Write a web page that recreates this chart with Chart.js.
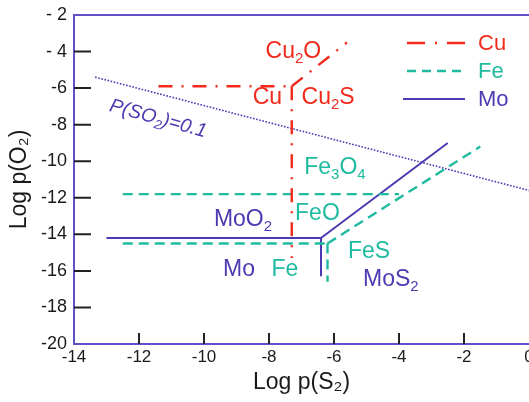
<!DOCTYPE html>
<html><head><meta charset="utf-8">
<script src="https://cdn.jsdelivr.net/npm/chart.js@4.4.0/dist/chart.umd.min.js"></script>
<style>html,body{margin:0;padding:0;background:#fff;overflow:hidden}#wrap{width:529px;height:402px;position:relative}</style>
</head><body><div id="wrap"><canvas id="c" width="529" height="402"></canvas></div>
<script>
// ---------- data ----------
const seriesNames = ['Cu', 'Fe', 'Mo'];
const xTickValues = [-14, -12, -10, -8, -6, -4, -2, 0];
const yTickValues = [-2, -4, -6, -8, -10, -12, -14, -16, -18, -20];
const yTickLabels = ['- 2', '- 4', '-6', '-8', '-10', '-12', '-14', '-16', '-18', '-20'];

// Cu boundaries
const cuHorizX = [-11.4, -7.3], cuHorizY = [-5.9, -5.9];
const cuVertX = [-7.3, -7.3],   cuVertY = [-5.9, -15.3];
const cuDiagX = [-7.3, -5.6],   cuDiagY = [-5.9, -3.5];
// Fe boundaries
const feUpperX = [-12.5, -4.0], feUpperY = [-11.8, -11.8];
const feLowerX = [-12.5, -6.2], feLowerY = [-14.5, -14.5];
const feVertX = [-6.2, -6.2],   feVertY = [-14.5, -16.6];
const feDiagX = [-6.2, -1.5],   feDiagY = [-14.5, -9.2];
// Mo boundaries
const moHorizX = [-13.0, -6.4], moHorizY = [-14.2, -14.2];
const moVertX = [-6.4, -6.4],   moVertY = [-14.2, -16.3];
const moDiagX = [-6.4, -2.5],   moDiagY = [-14.2, -9.0];
// P(SO2)=0.1 line
const so2X = [-13.35, 0], so2Y = [-5.4, -11.6];

// region labels (text, x, y in data units)
const labelTexts = ['Cu_2O', 'Cu', 'Cu_2S', 'Fe_3O_4', 'FeO', 'MoO_2', 'Mo', 'Fe', 'FeS', 'MoS_2', 'P(SO_2)=0.1'];
const labelX =     [-7.25, -8.05, -6.18, -5.97, -6.51, -8.8, -8.92, -7.51, -4.92, -4.25, -11.4];
const labelY =     [-3.91, -6.43, -6.43, -10.26, -12.78, -13.1, -15.8, -15.84, -14.86, -16.39, -7.6];
const labelSeries = ['Cu', 'Cu', 'Cu', 'Fe', 'Fe', 'Mo', 'Mo', 'Fe', 'Fe', 'Mo', 'Mo'];

// ---------- styles ----------
const FONT = '"Liberation Sans", Arial, sans-serif';
const COLORS = { Cu: '#f22a1c', Fe: '#1fbba0', Mo: '#4b3bb2' };
const DASH = { Cu: [14, 9, 2, 9], Fe: [10, 6], Mo: [] };
const WIDTH = { Cu: 2.4, Fe: 2.4, Mo: 2 };
const AXIS_COLOR = '#5f52c8';

function pts(xs, ys) { return xs.map((x, i) => ({ x: x, y: ys[i] })); }
function ds(name, xs, ys) {
  return { label: name, data: pts(xs, ys), showLine: true, pointRadius: 0, borderColor: COLORS[name],
    borderWidth: WIDTH[name], borderDash: DASH[name], fill: false, tension: 0 };
}
const datasets = [
  ds('Cu', cuHorizX, cuHorizY), ds('Cu', cuVertX, cuVertY), ds('Cu', cuDiagX, cuDiagY),
  ds('Fe', feUpperX, feUpperY), ds('Fe', feLowerX, feLowerY), ds('Fe', feVertX, feVertY), ds('Fe', feDiagX, feDiagY),
  ds('Mo', moHorizX, moHorizY), ds('Mo', moVertX, moVertY), ds('Mo', moDiagX, moDiagY),
  { label: 'P(SO2)=0.1', data: pts(so2X, so2Y), showLine: true, pointRadius: 0, borderColor: '#4b3bb2',
    borderWidth: 1.6, borderDash: [1.6, 1.6], fill: false }
];

function parseRich(str) {
  const parts = []; let i = 0;
  while (i < str.length) {
    if (str[i] === '_') { parts.push({ t: str[i + 1], sub: true }); i += 2; }
    else { let j = i; while (j < str.length && str[j] !== '_') j++; parts.push({ t: str.slice(i, j), sub: false }); i = j; }
  }
  return parts;
}
function drawRich(ctx, str, x, y, size, color, italic, angle) {
  const parts = parseRich(str);
  const mf = (italic ? 'italic ' : '') + size + 'px ' + FONT;
  const sf = (italic ? 'italic ' : '') + Math.round(size * 0.66) + 'px ' + FONT;
  let w = 0;
  parts.forEach(p => { ctx.font = p.sub ? sf : mf; p.w = ctx.measureText(p.t).width; w += p.w; });
  ctx.save();
  ctx.translate(x, y);
  if (angle) ctx.rotate(angle * Math.PI / 180);
  ctx.fillStyle = color; ctx.textBaseline = 'alphabetic'; ctx.textAlign = 'left';
  let cx = -w / 2; const base = size * 0.36;
  parts.forEach(p => { ctx.font = p.sub ? sf : mf; ctx.fillText(p.t, cx, p.sub ? base + size * 0.22 : base); cx += p.w; });
  ctx.restore();
}

const innerTicks = {
  id: 'innerTicks',
  beforeDatasetsDraw(chart) {
    const { ctx, chartArea: ca, scales: { x, y } } = chart;
    ctx.save(); ctx.strokeStyle = '#222'; ctx.lineWidth = 2; ctx.beginPath();
    y.ticks.forEach(t => { if (t.value > -20 && t.value < -2) { const py = y.getPixelForValue(t.value); ctx.moveTo(ca.left, py); ctx.lineTo(ca.left + 17, py); } });
    x.ticks.forEach(t => { if (t.value > -14 && t.value < 0) { const px = x.getPixelForValue(t.value); ctx.moveTo(px, ca.bottom); ctx.lineTo(px, ca.bottom - 11); } });
    ctx.stroke(); ctx.restore();
  }
};
const annotations = {
  id: 'annotations',
  afterDatasetsDraw(chart) {
    const { ctx, scales: { x, y } } = chart;
    labelTexts.forEach((t, i) => {
      const isSO2 = t.startsWith('P(');
      drawRich(ctx, t, x.getPixelForValue(labelX[i]), y.getPixelForValue(labelY[i]), isSO2 ? 19.5 : 23,
        COLORS[labelSeries[i]], isSO2, isSO2 ? 15.5 : 0);
    });
  }
};
const customLegend = {
  id: 'customLegend',
  afterDraw(chart) {
    const ctx = chart.ctx;
    seriesNames.forEach((n, i) => {
      const ly = 43 + i * 28;
      ctx.save(); ctx.strokeStyle = COLORS[n]; ctx.lineWidth = WIDTH[n];
      ctx.setLineDash(n === 'Cu' ? [18, 10, 2, 10] : n === 'Fe' ? [9, 6] : []);
      ctx.beginPath(); ctx.moveTo(n === 'Mo' ? 403 : 407, ly); ctx.lineTo(465, ly); ctx.stroke(); ctx.restore();
      ctx.save(); ctx.fillStyle = COLORS[n]; ctx.font = '22px ' + FONT; ctx.textBaseline = 'middle'; ctx.textAlign = 'left';
      ctx.fillText(n, 478, ly + 1); ctx.restore();
    });
  }
};

new Chart(document.getElementById('c'), {
  type: 'scatter',
  data: { datasets: datasets },
  options: {
    responsive: false, animation: false, devicePixelRatio: 1,
    layout: { padding: 0 },
    plugins: { legend: { display: false }, tooltip: { enabled: false } },
    scales: {
      x: {
        type: 'linear', position: 'bottom', min: -14, max: 0,
        afterBuildTicks(s) { s.ticks = xTickValues.map(v => ({ value: v })); },
        ticks: { font: { family: FONT, size: 17 }, color: '#1a1a1a', padding: 3, maxRotation: 0, autoSkip: false },
        grid: { display: false, drawTicks: false },
        border: { display: true, color: AXIS_COLOR, width: 2 },
        title: { display: true, text: 'Log p(S₂)', font: { family: FONT, size: 23 }, color: '#1a1a1a', padding: { top: 0, bottom: 6 } },
        afterFit(s) { s.height = 58; s.paddingLeft = 0; s.paddingRight = 0; }
      },
      xTop: {
        type: 'linear', position: 'top', min: -14, max: 0,
        ticks: { display: false }, grid: { display: false, drawTicks: false },
        border: { display: true, color: AXIS_COLOR, width: 2 },
        afterFit(s) { s.height = 15; s.paddingLeft = 0; s.paddingRight = 0; }
      },
      y: {
        type: 'linear', position: 'left', min: -20, max: -2,
        afterBuildTicks(s) { s.ticks = yTickValues.map(v => ({ value: v })); },
        ticks: { font: { family: FONT, size: 18 }, color: '#1a1a1a', padding: 7,
          callback: (v) => { const i = yTickValues.indexOf(v); return i >= 0 ? yTickLabels[i] : ''; } },
        grid: { display: false, drawTicks: false },
        border: { display: true, color: AXIS_COLOR, width: 2 },
        title: { display: true, text: 'Log p(O₂)', font: { family: FONT, size: 23 }, color: '#1a1a1a', padding: { top: 6, bottom: 0 } },
        afterFit(s) { s.width = 74; s.paddingTop = 0; s.paddingBottom = 0; }
      }
    }
  },
  plugins: [innerTicks, annotations, customLegend]
});
</script></body></html>
